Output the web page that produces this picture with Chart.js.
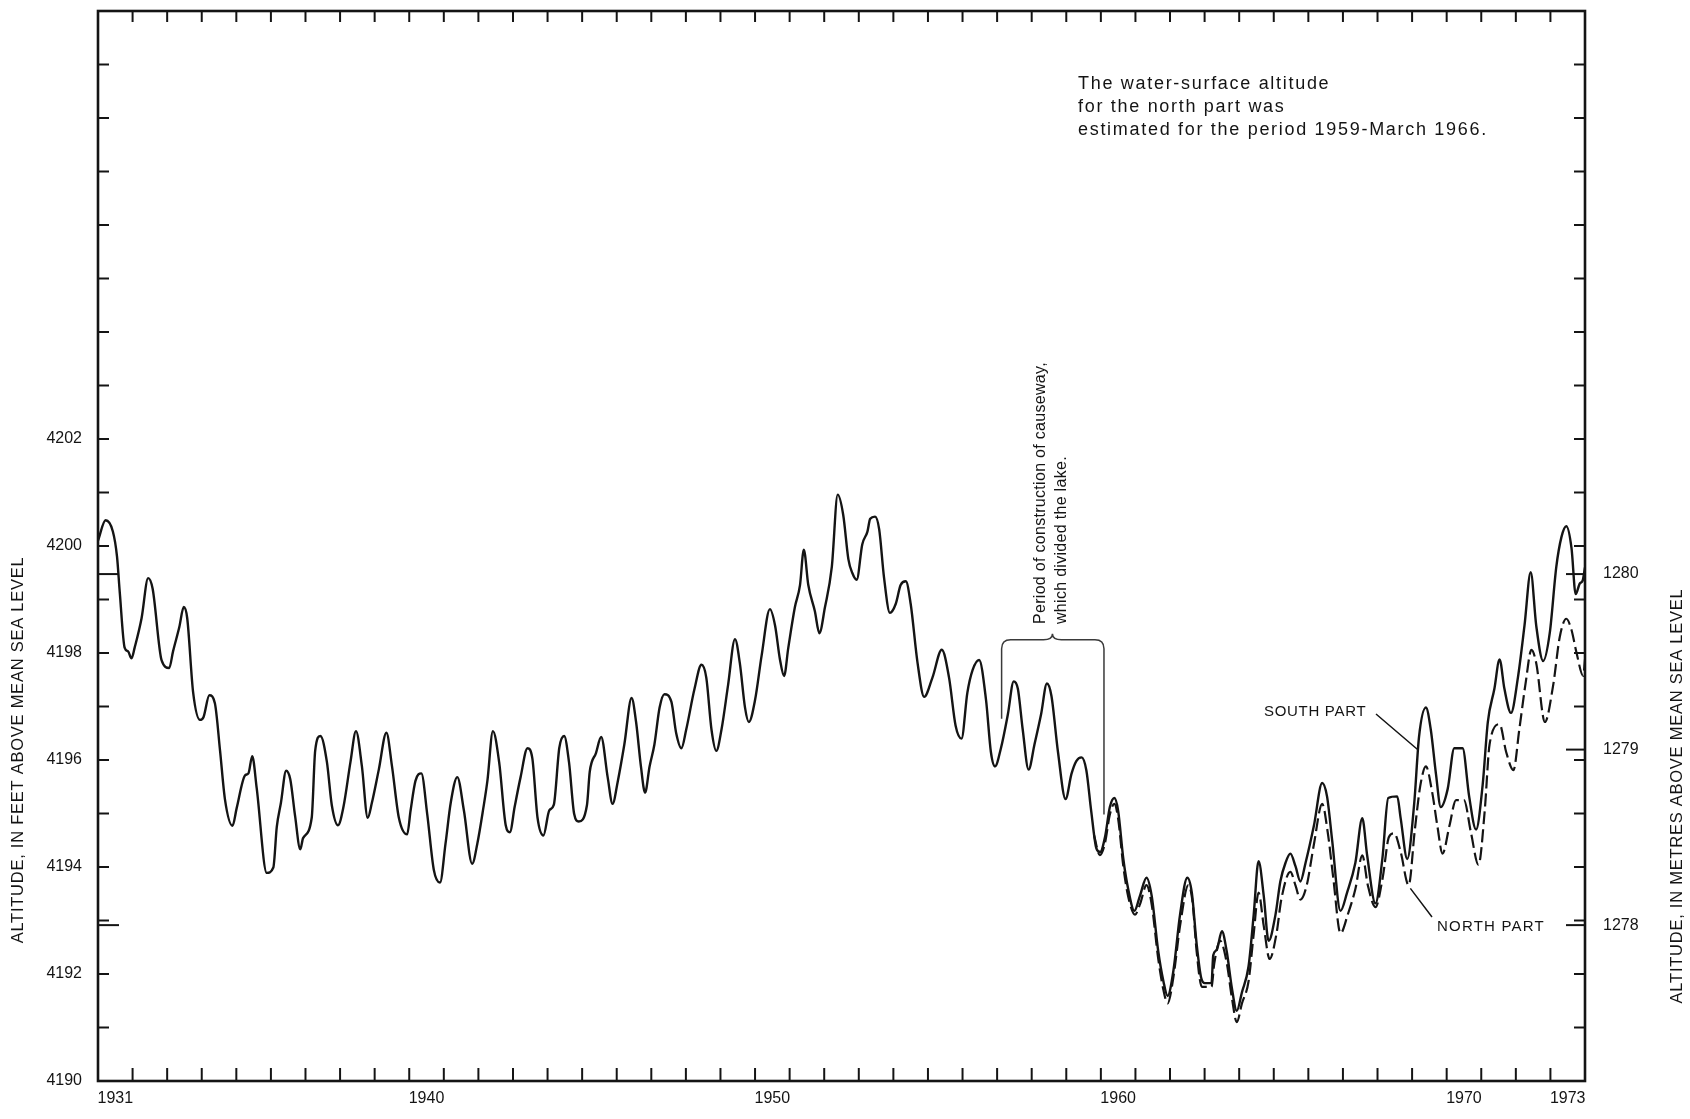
<!DOCTYPE html>
<html>
<head>
<meta charset="utf-8">
<script src="https://cdn.jsdelivr.net/npm/chart.js@4.4.1/dist/chart.umd.min.js"></script>
<style>
  html, body { margin: 0; padding: 0; background: #fff; }
  #wrap { width: 1690px; height: 1119px; }
</style>
</head>
<body>
<div id="wrap"><canvas id="chart" width="1690" height="1119"></canvas></div>
<script>
const xLabelYears = [1931, 1940, 1950, 1960, 1970, 1973];
const feetLabels = [4190, 4192, 4194, 4196, 4198, 4200, 4202];
const metreLabels = [1278, 1279, 1280];
const metreTicksLeft = [1278, 1280];

const southYears = [
  1931.00, 1931.22, 1931.43, 1931.55, 1931.63, 1931.77, 1931.87, 1931.97, 1932.06, 1932.26,
  1932.45, 1932.58, 1932.84, 1933.06, 1933.17, 1933.35, 1933.48, 1933.58, 1933.75, 1933.95,
  1934.05, 1934.22, 1934.38, 1934.53, 1934.67, 1934.89, 1935.01, 1935.25, 1935.35, 1935.46,
  1935.59, 1935.88, 1936.07, 1936.17, 1936.29, 1936.44, 1936.56, 1936.70, 1936.85, 1936.93,
  1937.18, 1937.28, 1937.43, 1937.62, 1937.76, 1937.94, 1938.10, 1938.30, 1938.46, 1938.63,
  1938.80, 1938.92, 1939.12, 1939.34, 1939.50, 1939.70, 1939.94, 1940.04, 1940.18, 1940.35,
  1940.52, 1940.71, 1940.89, 1941.05, 1941.20, 1941.39, 1941.58, 1941.82, 1941.97, 1942.14,
  1942.26, 1942.42, 1942.60, 1942.79, 1942.91, 1943.05, 1943.22, 1943.42, 1943.56, 1943.71,
  1943.88, 1944.05, 1944.18, 1944.34, 1944.48, 1944.62, 1944.77, 1944.90, 1945.14, 1945.22,
  1945.40, 1945.55, 1945.74, 1945.88, 1946.03, 1946.22, 1946.43, 1946.56, 1946.70, 1946.82,
  1946.95, 1947.09, 1947.24, 1947.38, 1947.58, 1947.72, 1947.87, 1948.01, 1948.25, 1948.45,
  1948.59, 1948.74, 1948.88, 1949.03, 1949.22, 1949.42, 1949.56, 1949.71, 1949.82, 1950.00,
  1950.19, 1950.43, 1950.58, 1950.72, 1950.84, 1950.96, 1951.15, 1951.30, 1951.41, 1951.54,
  1951.73, 1951.86, 1952.02, 1952.22, 1952.39, 1952.55, 1952.70, 1952.81, 1952.94, 1953.10,
  1953.25, 1953.33, 1953.47, 1953.59, 1953.73, 1953.90, 1954.07, 1954.21, 1954.36, 1954.50,
  1954.70, 1954.89, 1955.13, 1955.40, 1955.61, 1955.80, 1955.97, 1956.14, 1956.29, 1956.48,
  1956.68, 1956.82, 1956.94, 1957.11, 1957.31, 1957.48, 1957.60, 1957.74, 1957.91, 1958.08,
  1958.27, 1958.44, 1958.57, 1958.76, 1958.98, 1959.15, 1959.29, 1959.44, 1959.58, 1959.72,
  1959.87, 1959.98, 1960.12, 1960.26, 1960.39, 1960.50, 1960.65, 1960.79, 1960.97, 1961.13,
  1961.32, 1961.47, 1961.66, 1961.81, 1961.93, 1962.10, 1962.29, 1962.50, 1962.63, 1962.77,
  1962.90, 1963.01, 1963.20, 1963.25, 1963.35, 1963.50, 1963.64, 1963.79, 1963.93, 1964.08,
  1964.27, 1964.42, 1964.56, 1964.71, 1964.85, 1965.05, 1965.19, 1965.34, 1965.48, 1965.63,
  1965.77, 1965.92, 1966.16, 1966.40, 1966.54, 1966.69, 1966.93, 1967.12, 1967.36, 1967.56,
  1967.70, 1967.94, 1968.14, 1968.31, 1968.57, 1968.67, 1968.86, 1969.06, 1969.20, 1969.40,
  1969.54, 1969.69, 1969.83, 1970.03, 1970.22, 1970.46, 1970.65, 1970.85, 1971.04, 1971.19,
  1971.38, 1971.53, 1971.67, 1971.86, 1972.06, 1972.25, 1972.43, 1972.59, 1972.79, 1972.98,
  1973.17, 1973.32, 1973.46, 1973.61, 1973.73, 1973.85, 1973.93, 1974.00
];
const southFeet = [
  4200.10, 4200.48, 4200.27, 4199.80, 4199.13, 4198.10, 4198.03, 4197.90, 4198.10, 4198.65,
  4199.40, 4199.20, 4197.86, 4197.72, 4198.03, 4198.48, 4198.86, 4198.65, 4197.27, 4196.75,
  4196.80, 4197.21, 4197.06, 4196.17, 4195.27, 4194.77, 4195.10, 4195.71, 4195.75, 4196.07,
  4195.47, 4193.89, 4193.99, 4194.75, 4195.20, 4195.80, 4195.64, 4194.95, 4194.33, 4194.54,
  4194.92, 4196.17, 4196.45, 4195.96, 4195.16, 4194.78, 4195.13, 4195.96, 4196.54, 4195.89,
  4194.92, 4195.20, 4195.82, 4196.51, 4195.89, 4194.92, 4194.61, 4195.06, 4195.61, 4195.75,
  4194.99, 4193.95, 4193.71, 4194.44, 4195.20, 4195.68, 4195.06, 4194.06, 4194.44, 4195.09,
  4195.61, 4196.54, 4195.96, 4194.78, 4194.65, 4195.13, 4195.68, 4196.22, 4196.03, 4194.92,
  4194.59, 4195.06, 4195.16, 4196.23, 4196.45, 4195.96, 4194.99, 4194.85, 4195.16, 4195.78,
  4196.13, 4196.43, 4195.67, 4195.18, 4195.60, 4196.29, 4197.16, 4196.71, 4195.88, 4195.39,
  4195.88, 4196.29, 4196.98, 4197.23, 4197.09, 4196.50, 4196.22, 4196.57, 4197.33, 4197.78,
  4197.54, 4196.57, 4196.17, 4196.57, 4197.40, 4198.26, 4197.81, 4196.98, 4196.71, 4197.12,
  4197.95, 4198.82, 4198.51, 4197.88, 4197.57, 4198.09, 4198.85, 4199.27, 4199.93, 4199.27,
  4198.78, 4198.37, 4198.85, 4199.61, 4200.96, 4200.58, 4199.75, 4199.50, 4199.37, 4200.03,
  4200.27, 4200.51, 4200.55, 4200.31, 4199.41, 4198.75, 4198.92, 4199.27, 4199.34, 4198.92,
  4197.81, 4197.18, 4197.54, 4198.06, 4197.54, 4196.64, 4196.40, 4197.26, 4197.68, 4197.87,
  4197.12, 4196.15, 4195.88, 4196.22, 4196.85, 4197.47, 4197.33, 4196.57, 4195.82, 4196.29,
  4196.85, 4197.43, 4197.20, 4196.15, 4195.27, 4195.74, 4195.98, 4196.05, 4195.81, 4195.05,
  4194.35, 4194.28, 4194.56, 4195.12, 4195.29, 4195.05, 4194.15, 4193.59, 4193.18, 4193.46,
  4193.80, 4193.46, 4192.42, 4191.86, 4191.59, 4192.07, 4193.11, 4193.80, 4193.52, 4192.56,
  4191.93, 4191.83, 4191.83, 4192.35, 4192.45, 4192.80, 4192.42, 4191.73, 4191.31, 4191.66,
  4192.14, 4193.11, 4194.11, 4193.46, 4192.62, 4193.11, 4193.73, 4194.08, 4194.25, 4194.01,
  4193.73, 4194.08, 4194.77, 4195.57, 4195.32, 4194.49, 4193.18, 4193.52, 4194.08, 4194.91,
  4194.22, 4193.32, 4194.15, 4195.29, 4195.32, 4194.91, 4194.15, 4195.18, 4196.43, 4196.98,
  4196.57, 4195.74, 4195.12, 4195.46, 4196.22, 4196.22, 4195.32, 4194.70, 4195.53, 4196.71,
  4197.33, 4197.88, 4197.33, 4196.88, 4197.54, 4198.51, 4199.51, 4198.51, 4197.85, 4198.37,
  4199.61, 4200.17, 4200.37, 4199.96, 4199.10, 4199.30, 4199.35, 4199.60
];

const northYears = [
  1959.80, 1959.97, 1960.12, 1960.26, 1960.39, 1960.50, 1960.65, 1960.79, 1960.99, 1961.13,
  1961.32, 1961.47, 1961.66, 1961.81, 1961.93, 1962.10, 1962.29, 1962.53, 1962.65, 1962.77,
  1962.92, 1963.20, 1963.28, 1963.45, 1963.64, 1963.79, 1963.93, 1964.08, 1964.27, 1964.42,
  1964.56, 1964.71, 1964.88, 1965.08, 1965.22, 1965.48, 1965.63, 1965.77, 1965.95, 1966.16,
  1966.40, 1966.56, 1966.72, 1966.93, 1967.14, 1967.36, 1967.56, 1967.72, 1967.94, 1968.15,
  1968.33, 1968.48, 1968.67, 1968.90, 1969.08, 1969.24, 1969.40, 1969.58, 1969.73, 1969.88,
  1970.08, 1970.27, 1970.50, 1970.70, 1970.92, 1971.10, 1971.24, 1971.53, 1971.72, 1971.93,
  1972.10, 1972.29, 1972.45, 1972.59, 1972.84, 1973.08, 1973.27, 1973.46, 1973.61, 1973.75,
  1973.95, 1974.00
];
const northFeet = [
  4194.60, 4194.22, 4194.45, 4194.98, 4195.18, 4194.90, 4194.01, 4193.45, 4193.11, 4193.30,
  4193.66, 4193.30, 4192.28, 4191.70, 4191.45, 4191.95, 4192.90, 4193.66, 4193.35, 4192.42,
  4191.76, 4191.76, 4192.20, 4192.62, 4192.21, 4191.55, 4191.10, 4191.45, 4191.86, 4192.75,
  4193.52, 4192.90, 4192.28, 4192.76, 4193.40, 4193.91, 4193.65, 4193.39, 4193.65, 4194.42,
  4195.18, 4194.65, 4193.80, 4192.76, 4193.11, 4193.59, 4194.22, 4193.66, 4193.25, 4193.80,
  4194.56, 4194.63, 4194.28, 4193.66, 4194.70, 4195.53, 4195.88, 4195.40, 4194.77, 4194.25,
  4194.77, 4195.25, 4195.25, 4194.65, 4194.04, 4195.05, 4196.29, 4196.67, 4196.15, 4195.81,
  4196.57, 4197.47, 4198.06, 4197.81, 4196.71, 4197.40, 4198.30, 4198.64, 4198.43, 4198.02,
  4197.57, 4197.88
];

// ========== Axis setup ==========
const X_MIN = 1931, X_MAX = 1974;
const Y_MIN = 4190, Y_MAX = 4210;
const FT_PER_M = 3.28084;
const INK = "#141414";
const FONT = "'Liberation Sans', Arial, Helvetica, sans-serif";

const toPoints = (xs, ys) => xs.map((x, i) => ({ x, y: ys[i] }));

// keep the plot box fixed: no label overflow padding
const noPad = (s) => { s.paddingTop = 0; s.paddingBottom = 0; s.paddingLeft = 0; s.paddingRight = 0; };

// ========== Frame, inward ticks and annotations ==========
const framePlugin = {
  id: "frame",
  beforeDatasetsDraw(chart) {
    const { ctx, chartArea: a, scales } = chart;
    const line = (x1, y1, x2, y2) => {
      ctx.beginPath(); ctx.moveTo(x1, y1); ctx.lineTo(x2, y2); ctx.stroke();
    };
    ctx.save();
    ctx.strokeStyle = INK;
    ctx.lineWidth = 2;
    for (let yr = X_MIN + 1; yr < X_MAX; yr++) {
      const px = scales.x.getPixelForValue(yr);
      line(px, a.top, px, a.top + 11);
      line(px, a.bottom, px, a.bottom - 13);
    }
    for (let f = Y_MIN + 1; f < Y_MAX; f++) {
      const py = scales.y.getPixelForValue(f);
      line(a.left, py, a.left + 11, py);
      line(a.right, py, a.right - 11, py);
    }
    metreTicksLeft.forEach((m) => {
      const py = scales.y2.getPixelForValue(m);
      line(a.left, py, a.left + 21, py);
    });
    metreLabels.forEach((m) => {
      const py = scales.y2.getPixelForValue(m);
      line(a.right, py, a.right - 19, py);
    });
    ctx.lineWidth = 2.6;
    ctx.strokeRect(a.left, a.top, a.right - a.left, a.bottom - a.top);
    ctx.restore();
  },
  afterDatasetsDraw(chart) {
    const { ctx, scales } = chart;
    const px = (v) => scales.x.getPixelForValue(v);
    const py = (v) => scales.y.getPixelForValue(v);
    ctx.save();
    ctx.fillStyle = INK;
    ctx.strokeStyle = INK;

    // note, top right
    ctx.font = `18px ${FONT}`;
    ctx.letterSpacing = "1.7px";
    ctx.textAlign = "left";
    ctx.textBaseline = "alphabetic";
    ["The water-surface altitude", "for the north part was",
     "estimated for the period 1959-March 1966."].forEach((t, i) => {
      ctx.fillText(t, 1078, 89 + i * 23.2);
    });

    // causeway brace
    const x1 = px(1957.13), x2 = px(1960.09), xm = px(1958.6);
    const yTop = py(4198.25), r = 9;
    ctx.lineWidth = 1.5;
    ctx.strokeStyle = "#3a3a3a";
    ctx.beginPath();
    ctx.moveTo(x1, py(4196.77));
    ctx.lineTo(x1, yTop + r);
    ctx.quadraticCurveTo(x1, yTop, x1 + r, yTop);
    ctx.lineTo(xm - r, yTop);
    ctx.quadraticCurveTo(xm, yTop, xm, yTop - 6);
    ctx.quadraticCurveTo(xm, yTop, xm + r, yTop);
    ctx.lineTo(x2 - r, yTop);
    ctx.quadraticCurveTo(x2, yTop, x2, yTop + r);
    ctx.lineTo(x2, py(4194.98));
    ctx.stroke();

    ctx.save();
    ctx.translate(px(1958.27), 624);
    ctx.rotate(-Math.PI / 2);
    ctx.font = `16px ${FONT}`;
    ctx.letterSpacing = "0.3px";
    ctx.textBaseline = "middle";
    ctx.fillText("Period of construction of causeway,", 0, 0);
    ctx.fillText("which divided the lake.", 0, 21);
    ctx.restore();

    // series labels with leaders
    ctx.strokeStyle = INK;
    ctx.lineWidth = 1.5;
    ctx.font = `15px ${FONT}`;
    ctx.letterSpacing = "0.7px";
    ctx.fillText("SOUTH PART", 1264, 716);
    ctx.letterSpacing = "1.2px";
    ctx.fillText("NORTH PART", 1437, 931);
    ctx.beginPath();
    ctx.moveTo(1376, 714); ctx.lineTo(px(1969.15), py(4196.2));
    ctx.moveTo(px(1968.95), py(4193.6)); ctx.lineTo(1432, 917);
    ctx.stroke();

    // axis titles
    ctx.font = `16.5px ${FONT}`;
    ctx.letterSpacing = "0.75px";
    ctx.textAlign = "center";
    ctx.textBaseline = "middle";
    [["ALTITUDE, IN FEET ABOVE MEAN SEA LEVEL", 18, 750],
     ["ALTITUDE, IN METRES ABOVE MEAN SEA LEVEL", 1677, 796]].forEach(([t, x, y]) => {
      ctx.save();
      ctx.translate(x, y);
      ctx.rotate(-Math.PI / 2);
      ctx.fillText(t, 0, 0);
      ctx.restore();
    });
    ctx.restore();
  },
};

// ========== Chart ==========
const tickFont = { family: FONT, size: 16 };
const noGrid = { display: false, drawTicks: false };

new Chart(document.getElementById("chart").getContext("2d"), {
  type: "line",
  data: {
    datasets: [
      {
        label: "South part",
        data: toPoints(southYears, southFeet),
        borderColor: INK,
        borderWidth: 2.4,
        pointRadius: 0,
        tension: 0.4,
        cubicInterpolationMode: "monotone",
        fill: false,
      },
      {
        label: "North part",
        data: toPoints(northYears, northFeet),
        borderColor: INK,
        borderWidth: 2.2,
        borderDash: [13, 5],
        pointRadius: 0,
        tension: 0.4,
        cubicInterpolationMode: "monotone",
        fill: false,
      },
    ],
  },
  options: {
    responsive: false,
    animation: false,
    devicePixelRatio: 1,
    layout: { padding: { top: 11, left: 0, right: 0, bottom: 0 } },
    plugins: { legend: { display: false }, tooltip: { enabled: false } },
    scales: {
      x: {
        type: "linear",
        position: "bottom",
        min: X_MIN,
        max: X_MAX,
        offset: false,
        grid: noGrid,
        border: { display: false },
        afterBuildTicks: (s) => { s.ticks = xLabelYears.map((v) => ({ value: v + 0.5 })); },
        afterFit: (s) => { s.height = 38; noPad(s); },
        ticks: {
          color: INK, font: tickFont, padding: 8, maxRotation: 0, autoSkip: false,
          callback: (v) => String(Math.floor(v)),
        },
      },
      y: {
        type: "linear",
        position: "left",
        min: Y_MIN,
        max: Y_MAX,
        grid: noGrid,
        border: { display: false },
        afterBuildTicks: (s) => { s.ticks = feetLabels.map((v) => ({ value: v })); },
        afterFit: (s) => { s.width = 98; noPad(s); },
        ticks: { color: INK, font: tickFont, padding: 16, callback: (v) => String(v) },
      },
      y2: {
        type: "linear",
        position: "right",
        min: Y_MIN / FT_PER_M,
        max: Y_MAX / FT_PER_M,
        grid: noGrid,
        border: { display: false },
        afterBuildTicks: (s) => { s.ticks = metreLabels.map((v) => ({ value: v })); },
        afterFit: (s) => { s.width = 105; noPad(s); },
        ticks: { color: INK, font: tickFont, padding: 18, callback: (v) => String(v) },
      },
    },
  },
  plugins: [framePlugin],
});
</script>
</body>
</html>
